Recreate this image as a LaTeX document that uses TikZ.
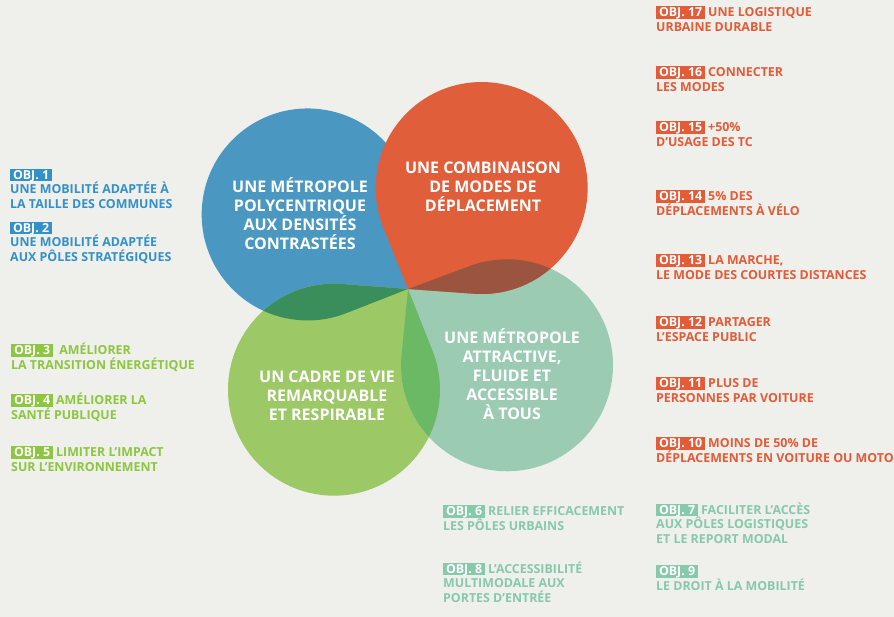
\documentclass[tikz,border=0pt]{standalone}
\usepackage{fontspec}
\setmainfont{Open Sans}
\usepackage{tikz}
\usetikzlibrary{positioning}

\definecolor{bgray}{HTML}{EFEFEC}
\definecolor{pblue}{HTML}{4A98C1}
\definecolor{porange}{HTML}{E15E3B}
\definecolor{pgreen}{HTML}{9DC866}
\definecolor{pteal}{HTML}{9CCBB4}
\definecolor{pdkgreen}{HTML}{3A8E5C}
\definecolor{pmidgreen}{HTML}{6BB865}
\definecolor{pbrown}{HTML}{9B5440}
\definecolor{tblue}{HTML}{3391C9}
\definecolor{torange}{HTML}{E35B37}
\definecolor{tgreen}{HTML}{8DC63F}
\definecolor{tteal}{HTML}{86C9AB}

\setlength{\fboxsep}{1.6pt}
\newcommand{\petalpath}{(0,0) -- (35.1,-56.2) arc[start angle=212, end angle=508, radius=106] -- cycle}
\newcommand{\objbox}[2]{\colorbox{#1}{\raisebox{0pt}[\height][0pt]{\hspace{1.2pt}\color{white}OBJ.~#2\hspace{1.2pt}}}}

\begin{document}
\begin{tikzpicture}[
    x=1pt, y=1pt,
    blue petal/.style={shift={(408,328)}, rotate=143.4},
    orange petal/.style={shift={(408,328)}, rotate=53.9},
    teal petal/.style={shift={(408,328)}, rotate=322.4},
    green petal/.style={shift={(408,328)}, rotate=233.7},
    petaltext/.style={text=white, align=center, font=\fontsize{16}{19}\selectfont\bfseries},
    objective/.style={anchor=base west, inner sep=0pt, align=left, font=\fontsize{12.4}{14.5}\selectfont\bfseries}
]
    \useasboundingbox (0,0) rectangle (894,617);
    \fill[bgray] (0,0) rectangle (894,617);

    % petals
    \fill[pblue, blue petal] \petalpath;
    \fill[pgreen, green petal] \petalpath;
    \fill[pteal, teal petal] \petalpath;
    \fill[porange, orange petal] \petalpath;

    % overlaps
    \begin{scope}
        \clip[blue petal] \petalpath;
        \fill[pdkgreen, green petal] \petalpath;
    \end{scope}
    \begin{scope}
        \clip[green petal] \petalpath;
        \fill[pmidgreen, teal petal] \petalpath;
    \end{scope}
    \begin{scope}
        \clip[orange petal] \petalpath;
        \fill[pbrown, teal petal] \petalpath;
    \end{scope}

    % petal titles
    \node[petaltext] (metro) at (300,403) {UNE MÉTROPOLE\\POLYCENTRIQUE\\AUX DENSITÉS\\CONTRASTÉES};
    \node[petaltext] (combi) at (483,430) {UNE COMBINAISON\\DE MODES DE\\DÉPLACEMENT};
    \node[petaltext] (access) at (512,242.5) {UNE MÉTROPOLE\\ATTRACTIVE,\\FLUIDE ET\\ACCESSIBLE\\À TOUS};
    \node[petaltext] (cadre) at (327,221.5) {UN CADRE DE VIE\\REMARQUABLE\\ET RESPIRABLE};

    % objectives (placed at the baseline of their last line), blue
    \node[objective, text=tblue] (obj1) at (10,408.5) {\objbox{tblue}{1}\\UNE MOBILITÉ ADAPTÉE À\\LA TAILLE DES COMMUNES};
    \node[objective, text=tblue] (obj2) at (10,355.8) {\objbox{tblue}{2}\\UNE MOBILITÉ ADAPTÉE\\AUX PÔLES STRATÉGIQUES};

    % objectives, green
    \node[objective, text=tgreen] (obj3) at (11,247.5) {\objbox{tgreen}{3}\ \ AMÉLIORER\\LA TRANSITION ÉNERGÉTIQUE};
    \node[objective, text=tgreen] (obj4) at (11,197.5) {\objbox{tgreen}{4} AMÉLIORER LA\\SANTÉ PUBLIQUE};
    \node[objective, text=tgreen] (obj5) at (11,145.5) {\objbox{tgreen}{5} LIMITER L'IMPACT\\SUR L'ENVIRONNEMENT};

    % objectives, orange
    \node[objective, text=torange] (obj17) at (656,585.5) {\objbox{torange}{17} UNE LOGISTIQUE\\URBAINE DURABLE};
    \node[objective, text=torange] (obj16) at (656,525.5) {\objbox{torange}{16} CONNECTER\\LES MODES};
    \node[objective, text=torange] (obj15) at (656,470.5) {\objbox{torange}{15} +50\%\\D'USAGE DES TC};
    \node[objective, text=torange] (obj14) at (656,401.5) {\objbox{torange}{14} 5\% DES\\DÉPLACEMENTS À VÉLO};
    \node[objective, text=torange] (obj13) at (656,337.5) {\objbox{torange}{13} LA MARCHE,\\LE MODE DES COURTES DISTANCES};
    \node[objective, text=torange] (obj12) at (656,275.5) {\objbox{torange}{12} PARTAGER\\L'ESPACE PUBLIC};
    \node[objective, text=torange] (obj11) at (656,214.5) {\objbox{torange}{11} PLUS DE\\PERSONNES PAR VOITURE};
    \node[objective, text=torange] (obj10) at (656,154.5) {\objbox{torange}{10} MOINS DE 50\% DE\\DÉPLACEMENTS EN VOITURE OU MOTO};

    % objectives, teal
    \node[objective, text=tteal] (obj6) at (443,86.5) {\objbox{tteal}{6} RELIER EFFICACEMENT\\LES PÔLES URBAINS};
    \node[objective, text=tteal] (obj8) at (443,14.5) {\objbox{tteal}{8} L'ACCESSIBILITÉ\\MULTIMODALE AUX\\PORTES D'ENTRÉE};
    \node[objective, text=tteal] (obj7) at (656,73.5) {\objbox{tteal}{7} FACILITER L'ACCÈS\\AUX PÔLES LOGISTIQUES\\ET LE REPORT MODAL};
    \node[objective, text=tteal] (obj9) at (656,26.5) {\objbox{tteal}{9}\\LE DROIT À LA MOBILITÉ};
\end{tikzpicture}
\end{document}
